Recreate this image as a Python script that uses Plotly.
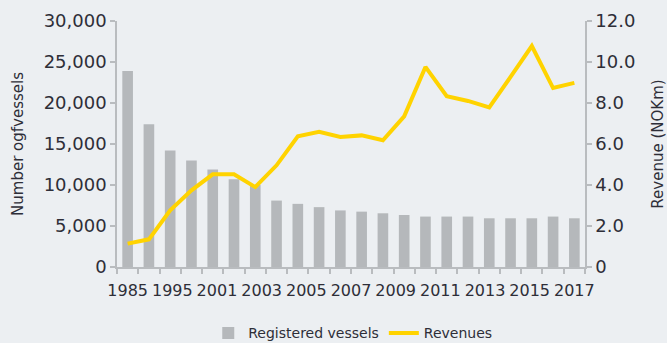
import plotly.graph_objects as go
import numpy as np

# Registered vessels (left axis) and revenues in NOKm (right axis), 22 periods
vessels = [23900, 17400, 14200, 13000, 11900, 10700, 10000, 8100, 7700, 7300, 6900,
           6750, 6550, 6340, 6150, 6150, 6150, 5940, 5940, 5940, 6150, 5940]
revenues = [1.14, 1.35, 2.76, 3.74, 4.52, 4.52, 3.90, 4.96, 6.38, 6.59, 6.34,
            6.42, 6.18, 7.35, 9.76, 8.33, 8.10, 7.78, 9.27, 10.78, 8.73, 8.98]
tick_labels = ["1985", "1995", "2001", "2003", "2005", "2007", "2009",
               "2011", "2013", "2015", "2017"]
left_ticks = [0, 5000, 10000, 15000, 20000, 25000, 30000]
right_ticks = [0, 2, 4, 6, 8, 10, 12]
right_tick_text = ["0", "2.0", "4.0", "6.0", "8.0", "10.0", "12.0"]

n = len(vessels)
x = list(range(n))
label_pos = list(np.linspace(0, n - 1, len(tick_labels)))
boundaries = [i - 0.5 for i in range(n + 1)]

BG = "#eceff2"
AX = "#b9bcbf"
TXT = "#2e2e38"
FONT = "DejaVu Sans"

fig = go.Figure()
fig.add_trace(go.Bar(x=x, y=vessels, name="Registered vessels",
                     marker=dict(color="#b5b8bb", line=dict(width=0)),
                     width=0.5, yaxis="y"))
fig.add_trace(go.Scatter(x=x, y=revenues, name="Revenues", mode="lines",
                         line=dict(color="#ffd300", width=4), yaxis="y2"))

fig.update_layout(
    width=667, height=343,
    margin=dict(l=117, r=82, t=21, b=76, autoexpand=False),
    paper_bgcolor=BG, plot_bgcolor=BG,
    font=dict(family=FONT, color=TXT, size=15),
    showlegend=True,
    legend=dict(orientation="h", x=0.195, xanchor="left", y=-0.27, yanchor="middle",
                font=dict(size=14, color=TXT), bgcolor="rgba(0,0,0,0)",
                itemwidth=30),
    xaxis=dict(range=[-0.5, n - 0.5], tickmode="array", tickvals=label_pos,
               ticktext=tick_labels, ticks="", showgrid=False, zeroline=False,
               showline=True, linecolor=AX, linewidth=1.5, tickangle=0,
               tickfont=dict(size=16, color=TXT), ticklabelstandoff=8,
               minor=dict(tickmode="array", tickvals=boundaries, ticks="outside",
                          ticklen=5, tickcolor=AX, tickwidth=1.5, showgrid=False)),
    yaxis=dict(range=[0, 30000], tickmode="array", tickvals=left_ticks,
               tickformat=",", ticks="outside", ticklen=5, tickcolor=AX, tickwidth=1.5,
               showgrid=False, zeroline=False, showline=True, linecolor=AX, linewidth=1.5,
               tickfont=dict(size=18, color=TXT),
               title=dict(text="Number ogfvessels", font=dict(size=15, color=TXT), standoff=16)),
    yaxis2=dict(range=[0, 12], overlaying="y", side="right", tickmode="array",
                tickvals=right_ticks, ticktext=right_tick_text, ticks="outside",
                ticklen=5, tickcolor=AX, tickwidth=1.5, showgrid=False, zeroline=False,
                showline=True, linecolor=AX, linewidth=1.5,
                tickfont=dict(size=18, color=TXT),
                title=dict(text="Revenue (NOKm)", font=dict(size=15, color=TXT), standoff=18)),
    bargap=0.5,
)

fig.write_html("out.html")
